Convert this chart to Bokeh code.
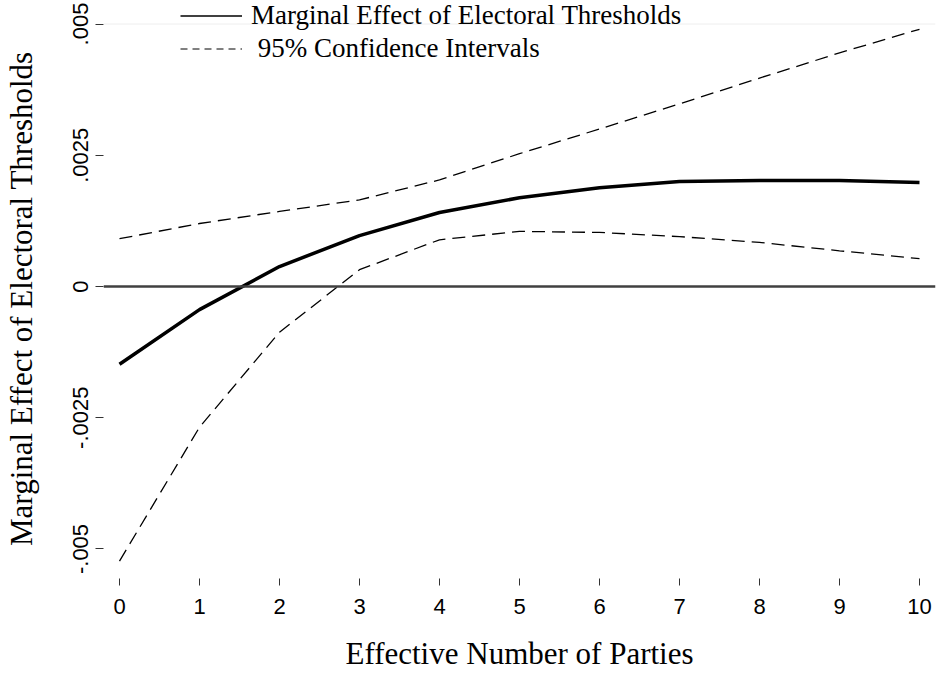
from bokeh.plotting import figure
from bokeh.models import Span, Legend, LegendItem, FixedTicker, Range1d
from bokeh.embed import file_html
from bokeh.resources import INLINE

# ---- data ----
parties = [0, 1, 2, 3, 4, 5, 6, 7, 8, 9, 10]
marginal_effect = [-0.00148, -0.00044, 0.00038, 0.00097, 0.00141, 0.00169,
                   0.00188, 0.00200, 0.00202, 0.00202, 0.00198]
ci_upper = [0.00091, 0.00120, 0.00143, 0.00165, 0.00203, 0.00253,
            0.00300, 0.00348, 0.00397, 0.00445, 0.00490]
ci_lower = [-0.00523, -0.00268, -0.00087, 0.00032, 0.00089, 0.00105,
            0.00103, 0.00095, 0.00084, 0.00068, 0.00053]
x_ticks = [0, 1, 2, 3, 4, 5, 6, 7, 8, 9, 10]
y_ticks = [-0.005, -0.0025, 0, 0.0025, 0.005]
y_tick_labels = ["-.005", "-.0025", "0", ".0025", ".005"]

p = figure(width=937, height=673, output_backend="svg", toolbar_location=None,
           x_range=Range1d(-0.2, 10.2), y_range=Range1d(-0.005467, 0.005448),
           min_border_left=103, min_border_right=2, min_border_top=0, min_border_bottom=93)
p.outline_line_color = None
p.xgrid.visible = False
p.ygrid.visible = False
p.background_fill_color = "white"
p.border_fill_color = "white"

# reference lines
p.add_layout(Span(location=0.005, dimension="width", line_color="#eeeeee", line_width=1))
p.add_layout(Span(location=0, dimension="width", line_color="#404040", line_width=2.5))

p.line(parties, ci_upper, line_color="black", line_width=1.3, line_dash="13 7")
p.line(parties, ci_lower, line_color="black", line_width=1.3, line_dash="13 7")
p.line(parties, marginal_effect, line_color="black", line_width=3.5)

# axes
for ax in (p.xaxis[0], p.yaxis[0]):
    ax.axis_line_color = None
    ax.major_tick_in = 0
    ax.minor_tick_line_color = None
    ax.major_tick_line_color = "#333333"
    ax.major_tick_line_width = 1
    ax.major_label_text_font = "Liberation Sans"
    ax.major_label_text_font_size = "22px"
    ax.major_label_text_color = "black"
    ax.axis_label_text_font = "Liberation Serif"
    ax.axis_label_text_font_size = "31px"
    ax.axis_label_text_font_style = "normal"
    ax.axis_label_text_color = "black"

p.xaxis.ticker = FixedTicker(ticks=x_ticks)
p.xaxis.major_tick_in = -5
p.xaxis.major_tick_out = 12
p.xaxis.major_label_standoff = 13
p.xaxis.axis_label = "Effective Number of Parties"
p.xaxis.axis_label_standoff = 19

p.yaxis.ticker = FixedTicker(ticks=y_ticks)
p.yaxis.major_label_overrides = {t: l for t, l in zip(y_ticks, y_tick_labels)}
p.yaxis.major_tick_out = 8
p.yaxis.major_label_orientation = "vertical"
p.yaxis.major_label_standoff = 7
p.yaxis.axis_label = "Marginal Effect of Electoral Thresholds\u00a0\u00a0\u00a0"
p.yaxis.axis_label_standoff = 32

# legend (sample glyphs only; NaN data so nothing is drawn in the plot)
nan = float("nan")
leg_solid = p.line(x=[nan], y=[nan], line_color="black", line_width=1.5)
leg_dash = p.line(x=[nan], y=[nan], line_color="black", line_width=1, line_dash="7 5")
legend = Legend(items=[
    LegendItem(label="Marginal Effect of Electoral Thresholds", renderers=[leg_solid]),
    LegendItem(label="\u00a095% Confidence Intervals", renderers=[leg_dash]),
], location=(77, 508), orientation="vertical", padding=0, margin=0, spacing=0,
    glyph_width=62, glyph_height=33, label_height=33, label_standoff=9,
    label_text_font="Liberation Serif", label_text_font_size="27px",
    label_text_color="black", background_fill_alpha=0, border_line_alpha=0)
p.add_layout(legend, "center")

open("out.html", "w").write(file_html(p, INLINE))
